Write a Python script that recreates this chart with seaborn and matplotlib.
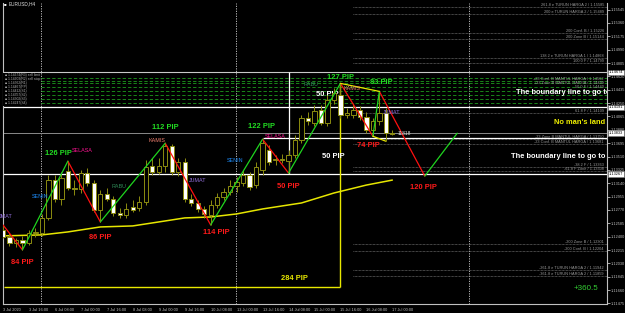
import matplotlib
matplotlib.use("Agg")
import matplotlib.pyplot as plt
import seaborn as sns
import pandas as pd

# ---------------- data (EURUSD H4) ----------------
bar_index = list(range(61))
opens = [1.12494, 1.12398, 1.12315, 1.12356, 1.12315, 1.12453, 1.12453, 1.12660, 1.13184, 1.12922,
         1.13308, 1.13074, 1.13060, 1.13281, 1.13143, 1.12770, 1.12991, 1.12922, 1.12729, 1.12701,
         1.12811, 1.12798, 1.12880, 1.13377, 1.13294, 1.13377, 1.13653, 1.13294, 1.13432, 1.12922,
         1.12867, 1.12784, 1.12701, 1.12839, 1.12949, 1.13018, 1.13101, 1.13143, 1.13253, 1.13115,
         1.13322, 1.13598, 1.13460, 1.13474, 1.13446, 1.13529, 1.13736, 1.14040, 1.13971, 1.14150,
         1.13971, 1.14288, 1.14357, 1.14081, 1.14081, 1.14150, 1.14053, 1.13874, 1.13998, 1.14109,
         1.13833]
highs = [1.12563, 1.12453, 1.12384, 1.12411, 1.12494, 1.12522, 1.12715, 1.13253, 1.13253, 1.13294,
         1.13446, 1.13184, 1.13322, 1.13350, 1.13184, 1.13046, 1.13074, 1.12963, 1.12798, 1.12867,
         1.12908, 1.12963, 1.13460, 1.13488, 1.13488, 1.13695, 1.13681, 1.13488, 1.13488, 1.12991,
         1.12908, 1.12825, 1.12908, 1.13005, 1.13074, 1.13184, 1.13225, 1.13322, 1.13294, 1.13432,
         1.13750, 1.13667, 1.13529, 1.13543, 1.13598, 1.13805, 1.14081, 1.14122, 1.14219, 1.14219,
         1.14357, 1.14454, 1.14523, 1.14178, 1.14233, 1.14205, 1.14122, 1.14040, 1.14412, 1.14178,
         1.13874]
lows = [1.12384, 1.12273, 1.12260, 1.12218, 1.12287, 1.12398, 1.12411, 1.12632, 1.12880, 1.12839,
        1.13046, 1.12977, 1.13005, 1.13101, 1.12742, 1.12604, 1.12894, 1.12687, 1.12660, 1.12660,
        1.12742, 1.12756, 1.12839, 1.13253, 1.13267, 1.13294, 1.13253, 1.13239, 1.12880, 1.12825,
        1.12742, 1.12660, 1.12563, 1.12798, 1.12908, 1.12977, 1.13018, 1.13101, 1.13046, 1.13074,
        1.13253, 1.13391, 1.13391, 1.13419, 1.13281, 1.13488, 1.13695, 1.13943, 1.13929, 1.13943,
        1.13929, 1.14233, 1.14040, 1.14040, 1.14040, 1.14012, 1.13833, 1.13791, 1.13943, 1.13722,
        1.13805]
closes = [1.12398, 1.12315, 1.12356, 1.12315, 1.12453, 1.12466, 1.12660, 1.13184, 1.12922, 1.13212,
          1.13074, 1.13060, 1.13281, 1.13143, 1.12770, 1.12991, 1.12922, 1.12729, 1.12701, 1.12784,
          1.12770, 1.12880, 1.13363, 1.13294, 1.13377, 1.13653, 1.13294, 1.13432, 1.12922, 1.12867,
          1.12784, 1.12715, 1.12839, 1.12949, 1.13018, 1.13101, 1.13156, 1.13253, 1.13087, 1.13363,
          1.13695, 1.13432, 1.13474, 1.13460, 1.13529, 1.13736, 1.14040, 1.13998, 1.14136, 1.13971,
          1.14288, 1.14385, 1.14081, 1.14109, 1.14150, 1.14053, 1.13874, 1.13998, 1.14109, 1.13833,
          1.13819]

ma_bars = [0, 6, 10, 15, 20, 25, 28, 32, 36, 40, 46, 51, 56, 60]
ma_values = [1.12411, 1.12425, 1.12466, 1.12535, 1.12549, 1.12618, 1.12660, 1.12673,
             1.12715, 1.12784, 1.12867, 1.13005, 1.13115, 1.13184]

zz_bars = [0, 3, 10, 15, 25, 32, 40, 44, 52]
zz_prices = [1.12563, 1.12218, 1.13446, 1.12604, 1.13695, 1.12563, 1.13750, 1.13281, 1.14523]
zz_pips = ["", "84 PIP", "126 PIP", "86 PIP", "112 PIP", "114 PIP", "122 PIP", "50 PIP", "127 PIP"]

proj_bars = [52, 57, 58, 65, 70]
proj_prices = [1.14523, 1.13791, 1.14412, 1.13239, 1.13833]
proj_pips = ["", "74 PIP", "83 PIP", "120 PIP", ""]

box_bottom = 1.11707      # 284 PIP range
box_pips = "284 PIP"

boundary_lines = [1.14674, 1.14191, 1.13267]
bid_price = 1.13833
upper_zone_line = 1.13764
green_levels = [1.14603, 1.14562, 1.14523, 1.14467, 1.14412, 1.14357, 1.14302, 1.14247]

level_prices = [1.15585, 1.15489, 1.15226, 1.15144, 1.14868, 1.14799, 1.14109,
                1.13750, 1.13681, 1.13363, 1.13308, 1.12301, 1.12204, 1.11942, 1.11859]
level_names = ["261.8 e TURUN HARGA 2 / 1.15585", "200 e TURUN HARGA 2 / 1.15489",
               "200 Conf. B / 1.15226", "200 Zone B / 1.15144",
               "138.2 e TURUN HARGA 1 / 1.14868", "100.0 F / 1.14799",
               "61.8 F / 1.14109", "-23 Zone B MANTUL HARGA / 1.13750",
               "-23 Conf. B MANTUL HARGA / 1.13681", "-38.2 F / 1.13363",
               "-61.8 F Zone / 1.13308", "-200 Zone B / 1.12301", "-200 Conf. B / 1.12204",
               "-261.8 e TURUN HARGA 2 / 1.11942", "-361.8 e TURUN HARGA 2 / 1.11859"]
zone_names = ["+23 Conf. B MANTUL HARGA / 1.14562", "+23 Zone B MANTUL HARGA / 1.14499",
              "50.0 F / 1.14440"]
zone_prices = [1.14562, 1.14499, 1.14440]

week_separators = [6, 36, 72]
time_tick_bars = [0, 4, 8, 12, 16, 20, 24, 28, 32, 36, 40, 44, 48, 52, 56, 60]
time_tick_labels = ["3 Jul 2020", "3 Jul 16:00", "6 Jul 08:00", "7 Jul 00:00", "7 Jul 16:00",
                    "8 Jul 08:00", "9 Jul 00:00", "9 Jul 16:00", "10 Jul 08:00", "13 Jul 00:00",
                    "13 Jul 16:00", "14 Jul 08:00", "15 Jul 00:00", "15 Jul 16:00",
                    "16 Jul 08:00", "17 Jul 00:00"]
price_ticks = [1.11475, 1.11660, 1.11845, 1.12030, 1.12215, 1.12400, 1.12585, 1.12770,
               1.12955, 1.13140, 1.13325, 1.13510, 1.13695, 1.13880, 1.14065, 1.14250,
               1.14435, 1.14620, 1.14805, 1.14990, 1.15175, 1.15360, 1.15545]
price_boxes = [1.14674, 1.14191, 1.13833, 1.13267]

day_names = ["JMAT", "SENIN", "SELASA", "RABU", "KAMIS", "JUMAT",
             "SENIN", "SELASA", "RABU", "KAMIS", "JUMAT"]
profit_text = "+360.5"

# ---------------- style ----------------
sns.set_style("dark", {"axes.facecolor": "black", "figure.facecolor": "black"})
plt.rcParams["font.family"] = ["Liberation Sans", "DejaVu Sans"]

W, H = 625, 313
fig = plt.figure(figsize=(W / 100, H / 100), dpi=100, facecolor="black")
ax = fig.add_axes([3 / W, 9 / H, 604 / W, 301 / H], facecolor="black")
XMIN, XMAX = 0.15, 93.08
YMIN, YMAX = 1.11468, 1.15636
ax.set_xlim(XMIN, XMAX)
ax.set_ylim(YMIN, YMAX)
ax.grid(False)


def P(x, y):
    """pixel position in the image -> axes fraction"""
    return ((x - 3) / 604, (304 - y) / 301)


def ptext(x, y, s, **kw):
    kw.setdefault("ha", "center")
    kw.setdefault("va", "center")
    ax.text(*P(x, y), s, transform=ax.transAxes, **kw)


# separators
for b in week_separators:
    ax.axvline(b - 0.15, color="#d0d0d0", lw=0.6, ls=(0, (1.5, 1.5)), zorder=1)

# green dashed zone levels
for g in green_levels:
    ax.axhline(g, color="#1d9a1d", lw=0.6, ls=(0, (4, 2.5)), zorder=1)

# dotted fibo levels
for lv in level_prices:
    ax.hlines(lv, 54, XMAX, color="#8a8a8a", lw=0.5, ls=(0, (1, 1)), zorder=1)
for lv, nm in zip(level_prices + zone_prices, level_names + zone_names):
    ax.text(0.995, lv, nm, transform=ax.get_yaxis_transform(), ha="right", va="bottom",
            fontsize=2.8, color="#9a9a9a", zorder=2)

# boundary lines
ax.axhline(boundary_lines[0], color="#c8c8c8", lw=0.8, zorder=2)
ax.axhline(boundary_lines[1], color="white", lw=0.9, zorder=2)
ax.axhline(boundary_lines[2], color="white", lw=0.9, zorder=2)
ax.axhline(bid_price, color="#8a8a8a", lw=0.7, zorder=2)
ax.hlines(upper_zone_line, 40, XMAX, color="white", lw=0.9, zorder=2)
ax.vlines(44, boundary_lines[2], boundary_lines[0], color="white", lw=0.9, zorder=2)

# 284 pip box
ax.hlines(box_bottom, XMIN, 52, color="#e8e800", lw=1.0, zorder=2)
ax.vlines(52, box_bottom, zz_prices[-1], color="#e8e800", lw=1.0, zorder=2)

# moving average
ma_df = pd.DataFrame({"bar": ma_bars, "price": ma_values})
sns.lineplot(data=ma_df, x="bar", y="price", color="#e6e600", lw=1.1, ax=ax,
             estimator=None, sort=False, zorder=3)

# candles
olive = "#8c8c10"
df = pd.DataFrame({"bar": bar_index, "o": opens, "h": highs, "l": lows, "c": closes})
ax.vlines(df["bar"], df["l"], df["h"], color=olive, lw=0.7, zorder=4)
bull = df["c"] >= df["o"]
body_lo = df[["o", "c"]].min(axis=1)
body_h = (df["c"] - df["o"]).abs().clip(lower=0.00003)
ax.bar(df["bar"][bull], body_h[bull], bottom=body_lo[bull], width=0.66,
       color="black", edgecolor=olive, lw=0.7, zorder=5)
ax.bar(df["bar"][~bull], body_h[~bull], bottom=body_lo[~bull], width=0.66,
       color="white", edgecolor=olive, lw=0.7, zorder=5)

# zigzag legs
rows = []
def add_legs(bars, prices, start_id):
    for i in range(len(bars) - 1):
        d = "up" if prices[i + 1] > prices[i] else "down"
        rows.append({"seg": start_id + i, "bar": bars[i], "price": prices[i], "dir": d})
        rows.append({"seg": start_id + i, "bar": bars[i + 1], "price": prices[i + 1], "dir": d})
add_legs(zz_bars, zz_prices, 0)
add_legs(proj_bars, proj_prices, 100)
zz_df = pd.DataFrame(rows)
sns.lineplot(data=zz_df, x="bar", y="price", hue="dir", units="seg", estimator=None,
             sort=False, palette={"up": "#1fd51f", "down": "#ff1010"}, lw=0.9,
             legend=False, ax=ax, zorder=6)
# yellow connectors
ax.plot([proj_bars[0], proj_bars[2]], [proj_prices[0], proj_prices[2]], color="#e8e800", lw=0.9, zorder=6)
ax.plot([proj_bars[1], 59], [proj_prices[1], lows[59]], color="#e8e800", lw=0.9, zorder=6)

# pip labels
bold = dict(fontsize=5.4, fontweight="bold", ha="center", va="center", zorder=8)
zz_off = [(0, 0), (0, -13), (-9, 8), (0, -16), (0, 16), (6, -8), (-1, 13), (0, -13), (0, 6)]
for b, p, s, off in zip(zz_bars, zz_prices, zz_pips, zz_off):
    if s:
        col = "#ff1a1a" if off[1] < 0 else "#22dd22"
        ax.annotate(s, (b, p), xytext=off, textcoords="offset pixels", color=col, **bold)
proj_off = [(0, 0), (-5, -9), (2, 9), (-1, -11), (0, 0)]
for b, p, s, off in zip(proj_bars, proj_prices, proj_pips, proj_off):
    if s:
        col = "#ff1a1a" if off[1] < 0 else "#22dd22"
        ax.annotate(s, (b, p), xytext=off, textcoords="offset pixels", color=col, **bold)

ptext(327, 94, "50 PIP", color="white", fontsize=5.4, fontweight="bold")
ptext(333, 156, "50 PIP", color="white", fontsize=5.4, fontweight="bold")
ptext(294, 278, box_pips, color="#e8e800", fontsize=5.4, fontweight="bold")

# day labels
day_pos = [(6, 216), (40, 197), (82, 151), (119, 187), (157, 140), (198, 181),
           (235, 161), (275, 137), (311, 84), (352, 88), (392, 113)]
day_col = {"SENIN": "#1e8fff", "SELASA": "#ff1493", "RABU": "#2e8b57", "KAMIS": "#f08070",
           "JUMAT": "#9370db", "JMAT": "#9370db"}
for (x, y), nm in zip(day_pos, day_names):
    ptext(x, y, nm, color=day_col[nm], fontsize=3.9, zorder=7)
ptext(398, 133, "11818", color="#dddddd", fontsize=3.6, ha="left", zorder=7)

# boundary texts
ax.text(*P(516, 93), "The boundary line to go to", transform=ax.transAxes, ha="left",
        va="center", color="white", fontsize=5.4, fontweight="bold", clip_on=True, zorder=8)
ptext(605, 122, "No man's land", color="#f0f000", fontsize=5.4, fontweight="bold", ha="right")
ptext(605, 157, "The boundary line to go to", color="white", fontsize=5.4,
      fontweight="bold", ha="right")
ptext(598, 289, profit_text, color="#33cc33", fontsize=5.8, ha="right")

# top-left symbol and legend box
ptext(5, 4, "■", color="white", fontsize=3.2)
ptext(9, 4, "EURUSD,H4", color="#e0e0e0", fontsize=3.4, ha="left")
ax.add_patch(plt.Rectangle(P(3, 106), 37 / 604, 33 / 301, transform=ax.transAxes,
                           facecolor="black", edgecolor="none", zorder=7))
legend_rows = ["1.14674(R3) sell limit", "1.14603(R2) sell stop", "1.14562(R1)",
               "1.14467(PP)", "1.14412(S1)", "1.14357(S2)", "1.14302(S3)", "1.14247(S4)"]
for i, r in enumerate(legend_rows):
    ptext(5, 75 + 4 * i, "■ " + r, color="#b0b0b0", fontsize=2.4, ha="left", zorder=8)

# axes styling
for side in ["left", "right", "bottom"]:
    ax.spines[side].set_color("#c0c0c0")
    ax.spines[side].set_linewidth(0.8)
ax.spines["top"].set_visible(False)
ax.yaxis.tick_right()
ax.set_yticks(price_ticks)
ax.set_yticklabels([f"{v:.5f}" for v in price_ticks])
ax.set_xticks(time_tick_bars)
ax.set_xticklabels(time_tick_labels, ha="left")
ax.tick_params(axis="both", colors="#c0c0c0", labelsize=2.8, length=2, width=0.6, pad=1.0)
ax.set_xlabel("")
ax.set_ylabel("")
for v in price_boxes:
    ax.annotate(f"{v:.5f}", (1.0, v), xycoords=("axes fraction", "data"), xytext=(2, 0),
                textcoords="offset pixels", ha="left", va="center", fontsize=2.8,
                color="black", annotation_clip=False, zorder=10,
                bbox=dict(boxstyle="square,pad=0.2", fc="white", ec="#808080", lw=0.4))

fig.savefig("out.png", dpi=100, facecolor="black")
